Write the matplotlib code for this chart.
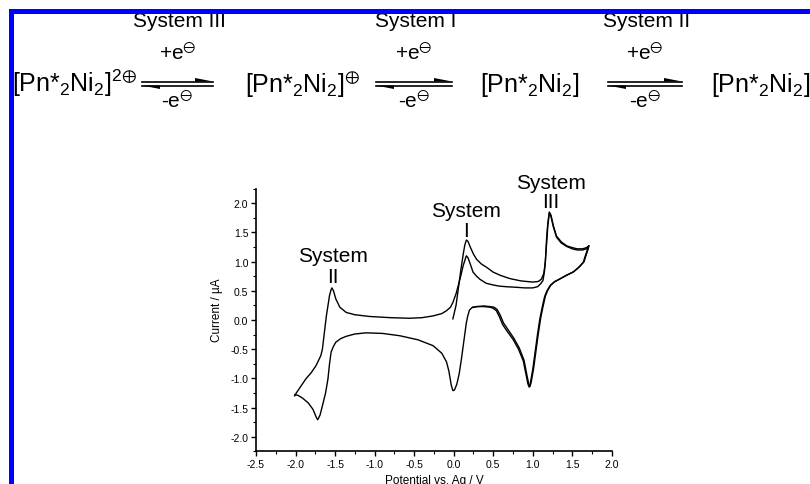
import numpy as np
import matplotlib
matplotlib.use('Agg')
import matplotlib.pyplot as plt
from matplotlib.lines import Line2D
from matplotlib.patches import Polygon, Rectangle
from matplotlib.ticker import MultipleLocator, FormatStrFormatter

plt.rcParams['font.family'] = ['Liberation Sans', 'DejaVu Sans']
plt.rcParams['mathtext.fontset'] = 'custom'
plt.rcParams['mathtext.rm'] = 'Liberation Sans'
plt.rcParams['mathtext.it'] = 'Liberation Sans:italic'
plt.rcParams['mathtext.bf'] = 'Liberation Sans:bold'
plt.rcParams['mathtext.fallback'] = 'stixsans'
plt.rcParams['axes.unicode_minus'] = False

# ---------------- data (potential / V, current / uA) ----------------
scan1_fwd_E = [-0.01, 0.03, 0.06, 0.09, 0.12, 0.14, 0.16, 0.18, 0.21, 0.25, 0.29, 0.35, 0.42,
               0.50, 0.60, 0.71, 0.85, 1.00, 1.07, 1.11, 1.14, 1.16, 1.175, 1.19, 1.21,
               1.23, 1.26, 1.30, 1.36, 1.43, 1.50, 1.56, 1.63, 1.68, 1.70]
scan1_fwd_I = [0.02, 0.25, 0.55, 0.85, 1.12, 1.28, 1.37, 1.35, 1.25, 1.13, 1.04, 0.96, 0.90,
               0.82, 0.76, 0.71, 0.67, 0.65, 0.66, 0.70, 0.80, 1.00, 1.39, 1.65, 1.85,
               1.80, 1.62, 1.44, 1.34, 1.27, 1.24, 1.22, 1.22, 1.24, 1.26]

scan1_rev_E = [1.70, 1.69, 1.66, 1.64, 1.58, 1.51, 1.42, 1.34, 1.27, 1.22, 1.18, 1.15, 1.12,
               1.09, 1.06, 1.03, 1.00, 0.97, 0.955, 0.94, 0.91, 0.88, 0.82, 0.75, 0.68,
               0.62, 0.58, 0.54, 0.50, 0.46, 0.38, 0.29, 0.23, 0.20, 0.18, 0.16, 0.13,
               0.10, 0.07, 0.04, 0.01, -0.01, -0.03, -0.06, -0.09, -0.15, -0.26, -0.45,
               -0.68, -0.90, -1.11, -1.25, -1.36, -1.43, -1.49, -1.52, -1.55, -1.57,
               -1.59, -1.62, -1.66, -1.69, -1.72, -1.74, -1.78, -1.84, -1.91, -1.97, -2.01]
scan1_rev_I = [1.25, 1.20, 1.08, 0.99, 0.90, 0.82, 0.76, 0.70, 0.65, 0.59, 0.50, 0.40, 0.22,
               0.02, -0.25, -0.55, -0.85, -1.08, -1.15, -1.10, -0.90, -0.70, -0.50, -0.33, -0.20,
               -0.08, 0.05, 0.16, 0.20, 0.22, 0.23, 0.23, 0.21, 0.17, 0.08, -0.05, -0.35,
               -0.65, -0.92, -1.10, -1.20, -1.21, -1.12, -0.88, -0.72, -0.57, -0.44, -0.34,
               -0.27, -0.23, -0.22, -0.24, -0.28, -0.32, -0.38, -0.45, -0.55, -0.75,
               -1.01, -1.25, -1.47, -1.63, -1.71, -1.66, -1.53, -1.42, -1.34, -1.29, -1.28]

scan2_fwd_E = [-2.01, -1.99, -1.93, -1.87, -1.80, -1.74, -1.68, -1.66, -1.64, -1.61, -1.57,
               -1.55, -1.54, -1.52, -1.49, -1.44, -1.36, -1.25, -1.06, -0.80, -0.56, -0.40,
               -0.26, -0.15, -0.09, -0.04, -0.01, 0.03, 0.08, 0.12, 0.16, 0.18, 0.21, 0.245,
               0.29, 0.33, 0.41, 0.50, 0.58, 0.67, 0.80, 0.90, 1.00, 1.06, 1.10, 1.13, 1.15,
               1.17, 1.19, 1.21, 1.23, 1.26, 1.30, 1.36, 1.43, 1.50, 1.56, 1.63, 1.68, 1.71]
scan2_fwd_I = [-1.30, -1.25, -1.13, -1.01, -0.90, -0.78, -0.61, -0.50, -0.27, 0.07, 0.42,
               0.52, 0.55, 0.50, 0.36, 0.22, 0.13, 0.09, 0.06, 0.04, 0.03, 0.04,
               0.07, 0.11, 0.16, 0.22, 0.30, 0.45, 0.70, 0.93, 1.10, 1.07, 0.96, 0.82,
               0.75, 0.70, 0.63, 0.60, 0.58, 0.57, 0.56, 0.55, 0.55, 0.57, 0.62, 0.68, 0.85,
               1.20, 1.60, 1.84, 1.78, 1.60, 1.42, 1.32, 1.26, 1.22, 1.20, 1.20, 1.22, 1.27]

scan2_rev_E = [1.71, 1.70, 1.67, 1.65, 1.59, 1.52, 1.43, 1.35, 1.28, 1.23, 1.19, 1.16, 1.13,
               1.10, 1.07, 1.04, 1.01, 0.98, 0.965, 0.95, 0.92, 0.89, 0.83, 0.76, 0.69,
               0.63, 0.59, 0.55, 0.51, 0.46, 0.38, 0.30, 0.24]
scan2_rev_I = [1.27, 1.21, 1.09, 1.00, 0.91, 0.83, 0.77, 0.71, 0.66, 0.60, 0.51, 0.41, 0.23,
               0.03, -0.24, -0.54, -0.84, -1.07, -1.14, -1.10, -0.90, -0.69, -0.48, -0.31, -0.17,
               -0.05, 0.08, 0.18, 0.22, 0.23, 0.24, 0.23, 0.22]

x_ticks = [-2.5, -2.0, -1.5, -1.0, -0.5, 0.0, 0.5, 1.0, 1.5, 2.0]
y_ticks = [-2.0, -1.5, -1.0, -0.5, 0.0, 0.5, 1.0, 1.5, 2.0]

peak_names = ['II', 'I', 'III']

species = [r'[Pn*$_{\mathregular{2}}$Ni$_{\mathregular{2}}$]$^{\mathregular{2}⊕}$',
           r'[Pn*$_{\mathregular{2}}$Ni$_{\mathregular{2}}$]$^{⊕}$',
           r'[Pn*$_{\mathregular{2}}$Ni$_{\mathregular{2}}$]',
           r'[Pn*$_{\mathregular{2}}$Ni$_{\mathregular{2}}$]$^{⊖}$']
scheme_systems = ['System III', 'System I', 'System II']

# ---------------- figure ----------------
W, H = 810, 485
fig = plt.figure(figsize=(W / 100, H / 100), dpi=100)
fig.patch.set_facecolor('white')


def fx(x):
    return x / W


def fy(y):
    return 1 - y / H


ax = fig.add_axes([fx(256), fy(452.3), fx(611.8) - fx(256), fy(189.7) - fy(452.3)])
ax.set_facecolor('none')
for E, I in [(scan1_fwd_E, scan1_fwd_I), (scan1_rev_E, scan1_rev_I),
             (scan2_fwd_E, scan2_fwd_I), (scan2_rev_E, scan2_rev_I)]:
    ax.plot(E, I, color='black', lw=1.0, solid_joinstyle='round')

ax.set_xlim(-2.5, 2.0)
ax.set_ylim(-2.25, 2.25)
ax.set_xticks(x_ticks)
ax.set_yticks(y_ticks)
ax.xaxis.set_major_formatter(FormatStrFormatter('%.1f'))
ax.yaxis.set_major_formatter(FormatStrFormatter('%.1f'))
ax.xaxis.set_minor_locator(MultipleLocator(0.25))
ax.yaxis.set_minor_locator(MultipleLocator(0.25))
for s in ['top', 'right']:
    ax.spines[s].set_visible(False)
for s in ['left', 'bottom']:
    ax.spines[s].set_linewidth(1.2)
ax.tick_params(which='major', direction='out', length=3.5, width=1.0, labelsize=7.5, pad=2)
ax.tick_params(which='minor', direction='out', length=2, width=0.8)

fig.text(fx(217), fy(310), 'Current / µA', rotation=90, ha='center', va='center', fontsize=8.5)
fig.text(fx(434), fy(484), 'Potential vs. Ag / V', ha='center', va='baseline', fontsize=8.5)

# peak labels (data coordinates)
peak_pos = [(-1.53, 1.016, 0.646), (0.16, 1.79, 1.445), (1.23, 2.27, 1.93)]
for name, (xp, yb1, yb2) in zip(peak_names, peak_pos):
    ax.text(xp, yb1, 'System', ha='center', va='baseline', fontsize=15, clip_on=False)
    ax.text(xp, yb2, name, ha='center', va='baseline', fontsize=15, clip_on=False)

# ---------------- reaction scheme ----------------
base = 92
species_x = [12, 245, 480, 711]
for s, xs in zip(species, species_x):
    fig.text(fx(xs), fy(base), s, ha='left', va='baseline', fontsize=18)

arrows = [(142, 213), (376, 452), (608, 682)]
yt, yb = 82.5, 86.5
for (x0, x1), sysname in zip(arrows, scheme_systems):
    fig.add_artist(Line2D([fx(x0), fx(x1)], [fy(yt), fy(yt)], color='black', lw=1.2,
                          transform=fig.transFigure))
    fig.add_artist(Polygon([(fx(x1), fy(yt)), (fx(x1 - 18), fy(yt - 3.5)), (fx(x1 - 18), fy(yt))],
                           closed=True, color='black', lw=0, transform=fig.transFigure))
    fig.add_artist(Line2D([fx(x0), fx(x1)], [fy(yb), fy(yb)], color='black', lw=1.2,
                          transform=fig.transFigure))
    fig.add_artist(Polygon([(fx(x0), fy(yb)), (fx(x0 + 18), fy(yb + 3.5)), (fx(x0 + 18), fy(yb))],
                           closed=True, color='black', lw=0, transform=fig.transFigure))
    xc = (x0 + x1) / 2
    fig.text(fx(xc), fy(60.5), r'+e$^{⊖}$', ha='center', va='baseline', fontsize=15)
    fig.text(fx(xc), fy(108), r'-e$^{⊖}$', ha='center', va='baseline', fontsize=15)
    fig.text(fx(xc + 2), fy(27), sysname, ha='center', va='baseline', fontsize=15)

# blue frame
fig.add_artist(Rectangle((fx(9), fy(15)), fx(W) - fx(9), fy(9.5) - fy(15), color='#0000ff',
                         lw=0, transform=fig.transFigure, zorder=10))
fig.add_artist(Rectangle((fx(8.5), fy(H)), fx(14) - fx(8.5), fy(9.5) - fy(H), color='#0000ff',
                         lw=0, transform=fig.transFigure, zorder=10))

fig.savefig('out.png', dpi=100)
